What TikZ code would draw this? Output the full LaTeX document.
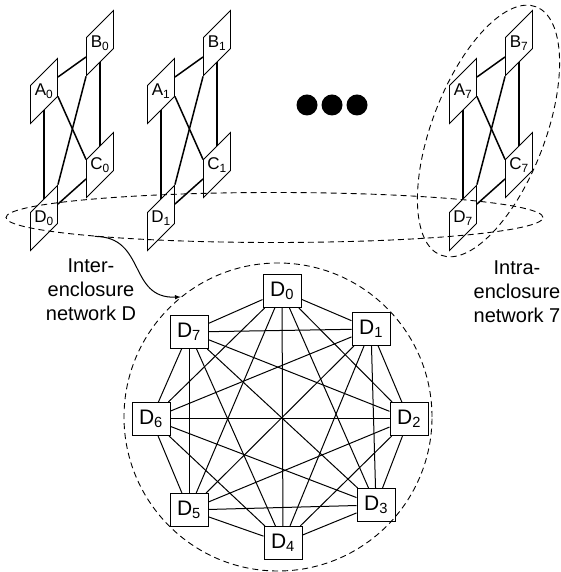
\documentclass[tikz,border=0pt]{standalone}
\usepackage{fontspec}
\setmainfont{Liberation Sans}
\usetikzlibrary{shapes.geometric}

\begin{document}
\begin{tikzpicture}[x=1pt, y=1pt,
        plane/.style={draw, line width=0.9pt, yslant=1, minimum width=27pt, minimum height=38pt, inner sep=0pt},
        tag/.style={inner sep=0pt, font=\fontsize{17}{19}\selectfont},
        wire/.style={line width=1.5pt},
        dbox/.style={draw, line width=1pt, minimum width=38pt, minimum height=33pt, inner sep=0pt, font=\fontsize{21}{24}\selectfont},
        link/.style={line width=1pt},
        encl/.style={draw, ellipse, line width=0.9pt, dash pattern=on 6pt off 4pt, inner sep=0pt},
        note/.style={align=center, font=\fontsize{20}{24}\selectfont}]
        \useasboundingbox (0,0) rectangle (560,572);

        % enclosure 0
        \node[plane] (a0) at (44, 481) {};
        \node[plane] (b0) at (100, 529) {};
        \node[plane] (c0) at (100, 407) {};
        \node[plane] (d0) at (44, 354) {};
        \node[tag] (a0l) at (a0) {A\textsubscript{0}};
        \node[tag] (b0l) at (b0) {B\textsubscript{0}};
        \node[tag] (c0l) at (c0) {C\textsubscript{0}};
        \node[tag] (d0l) at (d0) {D\textsubscript{0}};
        \draw[wire] (a0.east) -- (b0.west);
        \draw[wire] (a0.south) -- (d0.north);
        \draw[wire] (b0.south) -- (c0.north);
        \draw[wire] (a0.south east) -- (c0.north west);
        \draw[wire] (b0.south west) -- (d0.north east);
        \draw[wire] (c0.west) -- (d0.east);

        % enclosure 1
        \node[plane] (a1) at (161, 481) {};
        \node[plane] (b1) at (217, 529) {};
        \node[plane] (c1) at (217, 407) {};
        \node[plane] (d1) at (161, 354) {};
        \node[tag] (a1l) at (a1) {A\textsubscript{1}};
        \node[tag] (b1l) at (b1) {B\textsubscript{1}};
        \node[tag] (c1l) at (c1) {C\textsubscript{1}};
        \node[tag] (d1l) at (d1) {D\textsubscript{1}};
        \draw[wire] (a1.east) -- (b1.west);
        \draw[wire] (a1.south) -- (d1.north);
        \draw[wire] (b1.south) -- (c1.north);
        \draw[wire] (a1.south east) -- (c1.north west);
        \draw[wire] (b1.south west) -- (d1.north east);
        \draw[wire] (c1.west) -- (d1.east);

        % dots
        \node[circle, fill, inner sep=0pt, minimum size=21pt] (dot1) at (307, 467) {};
        \node[circle, fill, inner sep=0pt, minimum size=21pt] (dot2) at (332, 467) {};
        \node[circle, fill, inner sep=0pt, minimum size=21pt] (dot3) at (357, 467) {};

        % enclosure 7
        \node[plane] (a7) at (463, 481) {};
        \node[plane] (b7) at (519, 529) {};
        \node[plane] (c7) at (519, 407) {};
        \node[plane] (d7) at (463, 354) {};
        \node[tag] (a7l) at (a7) {A\textsubscript{7}};
        \node[tag] (b7l) at (b7) {B\textsubscript{7}};
        \node[tag] (c7l) at (c7) {C\textsubscript{7}};
        \node[tag] (d7l) at (d7) {D\textsubscript{7}};
        \draw[wire] (a7.east) -- (b7.west);
        \draw[wire] (a7.south) -- (d7.north);
        \draw[wire] (b7.south) -- (c7.north);
        \draw[wire] (a7.south east) -- (c7.north west);
        \draw[wire] (b7.south west) -- (d7.north east);
        \draw[wire] (c7.west) -- (d7.east);

        % dashed groups
        \node[encl, minimum width=537pt, minimum height=50pt] (inter) at (274.5, 354.5) {};
        \node[encl, minimum width=266pt, minimum height=113pt, rotate=69] (intra) at (488.5, 441) {};
        \node[encl, circle, minimum size=308pt] (ring) at (278, 155) {};

        \node[note] (internote) at (91, 282) {Inter-\\enclosure\\network D};
        \node[note] (intranote) at (517, 280) {Intra-\\enclosure\\network 7};

        \draw[line width=1pt, -latex] (inter.186) .. controls +(52,0) and +(-53,-2) .. (ring.129);

        % network D
        \node[dbox] (n0) at (282, 281) {D\textsubscript{0}};
        \node[dbox] (n1) at (371, 243) {D\textsubscript{1}};
        \node[dbox] (n2) at (409, 153) {D\textsubscript{2}};
        \node[dbox] (n3) at (376, 67) {D\textsubscript{3}};
        \node[dbox] (n4) at (283, 29) {D\textsubscript{4}};
        \node[dbox] (n5) at (189, 62) {D\textsubscript{5}};
        \node[dbox] (n6) at (151, 153) {D\textsubscript{6}};
        \node[dbox] (n7) at (189, 240) {D\textsubscript{7}};

        \draw[link] (n0) -- (n1);
        \draw[link] (n0) -- (n2);
        \draw[link] (n0) -- (n3);
        \draw[link] (n0) -- (n4);
        \draw[link] (n0) -- (n5);
        \draw[link] (n0) -- (n6);
        \draw[link] (n0) -- (n7);
        \draw[link] (n1) -- (n2);
        \draw[link] (n1) -- (n3);
        \draw[link] (n1) -- (n4);
        \draw[link] (n1) -- (n5);
        \draw[link] (n1) -- (n6);
        \draw[link] (n1) -- (n7);
        \draw[link] (n2) -- (n3);
        \draw[link] (n2) -- (n4);
        \draw[link] (n2) -- (n5);
        \draw[link] (n2) -- (n6);
        \draw[link] (n2) -- (n7);
        \draw[link] (n3) -- (n4);
        \draw[link] (n3) -- (n5);
        \draw[link] (n3) -- (n6);
        \draw[link] (n3) -- (n7);
        \draw[link] (n4) -- (n5);
        \draw[link] (n4) -- (n6);
        \draw[link] (n4) -- (n7);
        \draw[link] (n5) -- (n6);
        \draw[link] (n5) -- (n7);
        \draw[link] (n6) -- (n7);
    \end{tikzpicture}
\end{document}
